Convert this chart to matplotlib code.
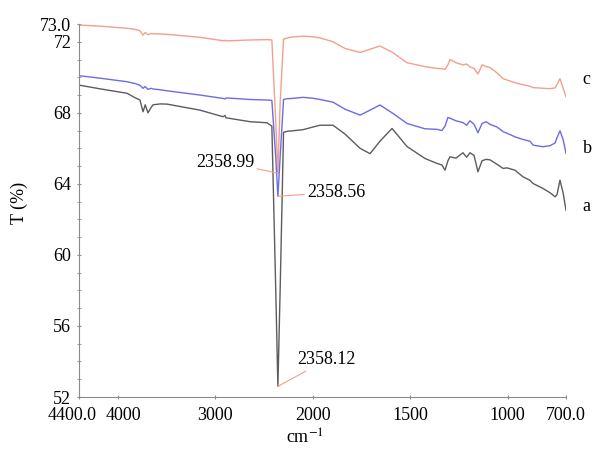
import numpy as np
import matplotlib
matplotlib.use('Agg')
import matplotlib.pyplot as plt
from matplotlib.ticker import MultipleLocator
from matplotlib.transforms import ScaledTranslation

plt.rcParams['font.family'] = ['Liberation Serif', 'DejaVu Serif']
plt.rcParams['mathtext.fontset'] = 'stix'

# nombre d'onde (cm-1)
wavenumber = [4400, 4184, 3907, 3825, 3774, 3743, 3720, 3692, 3660, 3640, 3568, 3497,
              3158, 2922, 2900, 2891, 2644, 2470, 2420, 2380, 2358, 2335, 2300, 2254,
              2234, 2100, 1999, 1963, 1896, 1834, 1757, 1706, 1655, 1593, 1516, 1424,
              1362, 1337, 1321, 1306, 1296, 1265, 1229, 1210, 1193, 1172, 1152, 1131,
              1110, 1090, 1054, 1023, 1003, 962, 921, 885, 869, 818, 782, 756, 746,
              731, 715, 700]

# transmittance (%)
trans_c = [72.94, 72.88, 72.76, 72.70, 72.62, 72.38, 72.52, 72.40, 72.46, 72.45, 72.44, 72.42,
           72.25, 72.06, 72.08, 72.05, 72.10, 72.12, 72.10, 67.5, 64.6, 68.5, 72.15, 72.22,
           72.25, 72.32, 72.28, 72.22, 72.0, 71.62, 71.4, 71.58, 71.76, 71.42, 70.82, 70.6,
           70.5, 70.48, 70.45, 70.7, 71.0, 70.82, 70.7, 70.75, 70.58, 70.5, 70.18, 70.7,
           70.6, 70.55, 70.25, 69.92, 69.85, 69.7, 69.58, 69.5, 69.42, 69.38, 69.36, 69.4, 69.6,
           69.92, 69.4, 68.9]
trans_b = [70.09, 69.95, 69.75, 69.65, 69.55, 69.38, 69.48, 69.32, 69.38, 69.34, 69.30, 69.24,
           69.0, 68.81, 68.78, 68.84, 68.75, 68.72, 68.70, 65.5, 63.3, 65.5, 68.75, 68.80,
           68.80, 68.87, 68.82, 68.75, 68.6, 68.2, 67.87, 68.15, 68.44, 68.0, 67.4, 67.1,
           67.07, 67.0, 67.25, 67.74, 67.7, 67.55, 67.45, 67.3, 67.55, 67.35, 66.88, 67.4,
           67.5, 67.35, 67.2, 66.94, 66.85, 66.65, 66.5, 66.4, 66.18, 66.09, 66.15, 66.3, 66.6,
           66.99, 66.5, 65.72]
trans_a = [69.56, 69.35, 69.10, 68.85, 68.72, 68.06, 68.45, 68.0, 68.3, 68.45, 68.50, 68.49,
           68.15, 67.78, 67.85, 67.72, 67.5, 67.44, 67.25, 58.0, 52.6, 58.0, 66.9, 66.97,
           66.97, 67.05, 67.2, 67.3, 67.3, 66.8, 66.0, 65.7, 66.4, 67.12, 66.1, 65.43,
           65.15, 65.06, 64.77, 65.3, 65.52, 65.45, 65.75, 65.5, 65.75, 65.6, 64.68, 65.3,
           65.38, 65.35, 65.1, 64.87, 64.9, 64.77, 64.4, 64.2, 64.02, 63.74, 63.5, 63.27, 63.4,
           64.21, 63.5, 62.52]

pics = ['2358.99', '2358.56', '2358.12']
noms = ['c', 'b', 'a']
pos_noms = [69.85, 66.0, 62.7]
xticks = [4400, 4000, 3000, 2000, 1500, 1000, 700]
xticklabels = ['4400.0', '4000', '3000', '2000', '1500', '1000', '700.0']
yticks = [52, 56, 60, 64, 68, 72, 73]
yticklabels = ['52', '56', '60', '64', '68', '72', '73.0']


# echelle dilatee x2 en dessous de 2000 cm-1
def fwd(x):
    x = np.asarray(x, dtype=float)
    return np.where(x >= 2000, x, 2 * x - 2000)


def inv(v):
    v = np.asarray(v, dtype=float)
    return np.where(v >= 2000, v, (v + 2000) / 2)


fig = plt.figure(figsize=(5.92, 4.53), dpi=100)
ax = fig.add_axes([79 / 592, 1 - 397 / 453, 487 / 592, 373 / 453])
ax.set_xscale('function', functions=(fwd, inv))

col_a, col_b, col_c = '#5c5c5c', '#6b6be8', '#f2a08a'
ax.plot(wavenumber, trans_c, color=col_c, lw=1)
ax.plot(wavenumber, trans_b, color=col_b, lw=1)
ax.plot(wavenumber, trans_a, color=col_a, lw=1)

ax.set_xlim(4400, 700)
ax.set_ylim(52, 73)

for s in ['top', 'right']:
    ax.spines[s].set_visible(False)
for s in ['left', 'bottom']:
    ax.spines[s].set_color('#8a8a8a')

ax.set_xticks(xticks)
ax.set_xticklabels(xticklabels)
ax.set_yticks(yticks)
ax.set_yticklabels(yticklabels)
ax.yaxis.set_minor_locator(MultipleLocator(1))
ax.tick_params(axis='both', which='both', direction='inout', length=3, color='#8a8a8a',
               labelsize=13, pad=4)
ax.tick_params(axis='x', pad=6)

# petit decalage des etiquettes 4400.0 / 4000
lbls = ax.get_xticklabels()
lbls[0].set_transform(lbls[0].get_transform() + ScaledTranslation(-7 / 100, 0, fig.dpi_scale_trans))
lbls[1].set_transform(lbls[1].get_transform() + ScaledTranslation(5 / 100, 0, fig.dpi_scale_trans))

ax.set_xlabel('cm$^{-1}$', fontsize=13)
ax.xaxis.set_label_coords(0.464, -0.085)
ax.set_ylabel('T (%)', fontsize=13)
ax.yaxis.set_label_coords(-0.105, 0.52)

# noms des courbes
for nom, yv in zip(noms, pos_noms):
    ax.annotate(nom, xy=(700, yv), xytext=(12, 0), textcoords='offset points',
                fontsize=13, va='center', annotation_clip=False)

i = wavenumber.index(2358)
fleche = dict(arrowstyle='-', color=col_c, lw=0.8, shrinkA=0, shrinkB=0)
ax.annotate(pics[0], xy=(2358, trans_c[i]), xytext=(-17, 8), textcoords='offset points',
            ha='right', va='center', fontsize=13, arrowprops=fleche)
ax.annotate(pics[1], xy=(2358, trans_b[i]), xytext=(21, 3), textcoords='offset points',
            ha='left', va='center', fontsize=13, arrowprops=fleche)
ax.annotate(pics[2], xy=(2358, trans_a[i]), xytext=(14, 19), textcoords='offset points',
            ha='left', va='center', fontsize=13, arrowprops=fleche)

fig.savefig('out.png', dpi=100)
